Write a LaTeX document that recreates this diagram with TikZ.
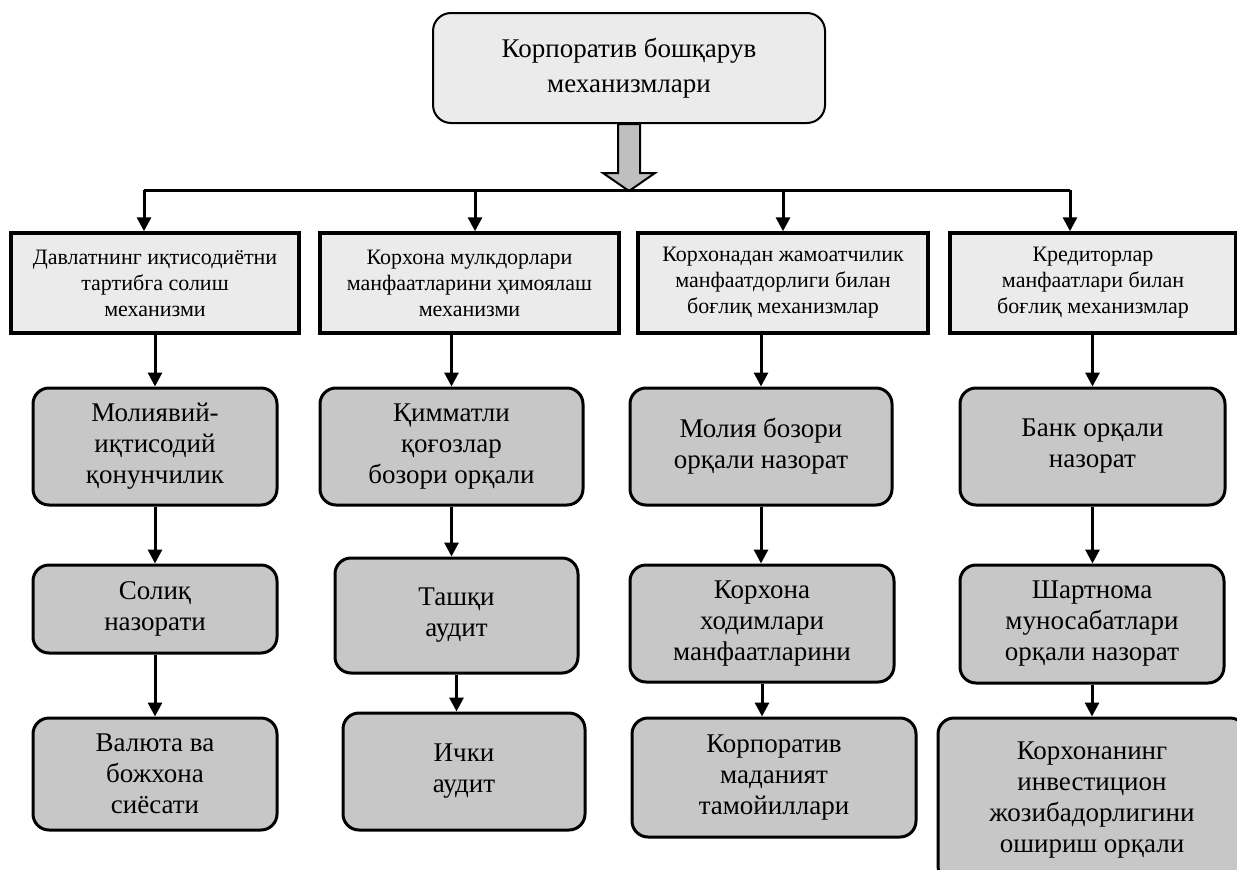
\documentclass[tikz,border=0pt]{standalone}
\usepackage{fontspec}
\setmainfont{Liberation Serif}
\usetikzlibrary{arrows.meta}
\tikzset{topbox/.style={draw, line width=2pt, rounded corners=18pt, fill=black!8,
      align=center, minimum width=392pt, minimum height=110pt,
      font=\fontsize{27}{35}\selectfont}}
\tikzset{headbox/.style={draw, line width=3.5pt, fill=black!8, align=center,
      minimum height=100pt, font=\fontsize{22}{26}\selectfont}}
\tikzset{itembox/.style={draw, line width=3pt, rounded corners=16pt, fill=black!22,
      align=center, font=\fontsize{27}{31}\selectfont}}
\tikzset{link/.style={line width=3pt, -{Triangle[length=14pt,width=14pt]}}}

\begin{document}
\begin{tikzpicture}[x=1pt,y=-1pt]
    \clip (0,0) rectangle (1237,870);
    \node[topbox] (top) at (629,68) {Корпоратив бошқарув\\механизмлари};
    \draw[line width=2pt, fill=black!25] (top.south) ++(-11,0) -- ++(0,49) -- ++(-15,0)
      -- ++(26,18) -- ++(26,-18) -- ++(-15,0) -- ++(0,-49) -- cycle;

    \node[headbox, minimum width=288pt] (h1) at (155,283) {Давлатнинг иқтисодиётни\\тартибга солиш\\механизми};
    \node[headbox, minimum width=299pt] (h2) at (469.5,283) {Корхона мулкдорлари\\манфаатларини ҳимоялаш\\механизми};
    \node[headbox, minimum width=290pt] (h3) at (783,283) {Корхонадан жамоатчилик\\манфаатдорлиги билан\\боғлиқ механизмлар};
    \node[headbox, minimum width=286pt] (h4) at (1093,283) {Кредиторлар\\манфаатлари билан\\боғлиқ механизмлар};

    \node[itembox, minimum width=244pt, minimum height=117pt] (m1) at (155,446.5) {Молиявий-\\иқтисодий\\қонунчилик};
    \node[itembox, minimum width=263pt, minimum height=117pt] (m2) at (451.5,446.5) {Қимматли\\қоғозлар\\бозори орқали};
    \node[itembox, minimum width=262pt, minimum height=117pt] (m3) at (761,446.5) {Молия бозори\\орқали назорат};
    \node[itembox, minimum width=265pt, minimum height=117pt] (m4) at (1092.5,446.5) {Банк орқали\\назорат};

    \node[itembox, minimum width=244pt, minimum height=88pt] (s1) at (155,609) {Солиқ\\назорати};
    \node[itembox, minimum width=243pt, minimum height=115pt] (s2) at (456.5,615.5) {Ташқи\\аудит};
    \node[itembox, minimum width=264pt, minimum height=117pt] (s3) at (762,623.5) {Корхона\\ходимлари\\манфаатларини};
    \node[itembox, minimum width=264pt, minimum height=118pt] (s4) at (1092,624) {Шартнома\\муносабатлари\\орқали назорат};

    \node[itembox, minimum width=244pt, minimum height=112pt] (b1) at (155,774) {Валюта ва\\божхона\\сиёсати};
    \node[itembox, minimum width=242pt, minimum height=117pt] (b2) at (464,771.5) {Ички\\аудит};
    \node[itembox, minimum width=284pt, minimum height=119pt] (b3) at (774,777.5) {Корпоратив\\маданият\\тамойиллари};
    \node[itembox, minimum width=308pt, minimum height=164pt] (b4) at (1092,800) {Корхонанинг\\инвестицион\\жозибадорлигини\\ошириш орқали};

    \coordinate (t1) at (144,190);
    \coordinate (t2) at (475,190);
    \coordinate (t3) at (783,190);
    \coordinate (t4) at (1070,190);
    \draw[line width=3pt] (t1) -- (t4);
    \draw[link] (t1) -- (t1 |- h1.north);
    \draw[link] (t2) -- (t2 |- h2.north);
    \draw[link] (t3) -- (t3 |- h3.north);
    \draw[link] (t4) -- (t4 |- h4.north);

    \draw[link] (m1.north |- h1.south) -- (m1.north);
    \draw[link] (m2.north |- h2.south) -- (m2.north);
    \draw[link] (m3.north |- h3.south) -- (m3.north);
    \draw[link] (m4.north |- h4.south) -- (m4.north);

    \draw[link] (m1.south) -- (m1.south |- s1.north);
    \draw[link] (m2.south) -- (m2.south |- s2.north);
    \draw[link] (m3.south) -- (m3.south |- s3.north);
    \draw[link] (m4.south) -- (m4.south |- s4.north);

    \draw[link] (s1.south) -- (s1.south |- b1.north);
    \draw[link] (s2.south) -- (s2.south |- b2.north);
    \draw[link] (s3.south) -- (s3.south |- b3.north);
    \draw[link] (s4.south) -- (s4.south |- b4.north);
  \end{tikzpicture}
\end{document}
